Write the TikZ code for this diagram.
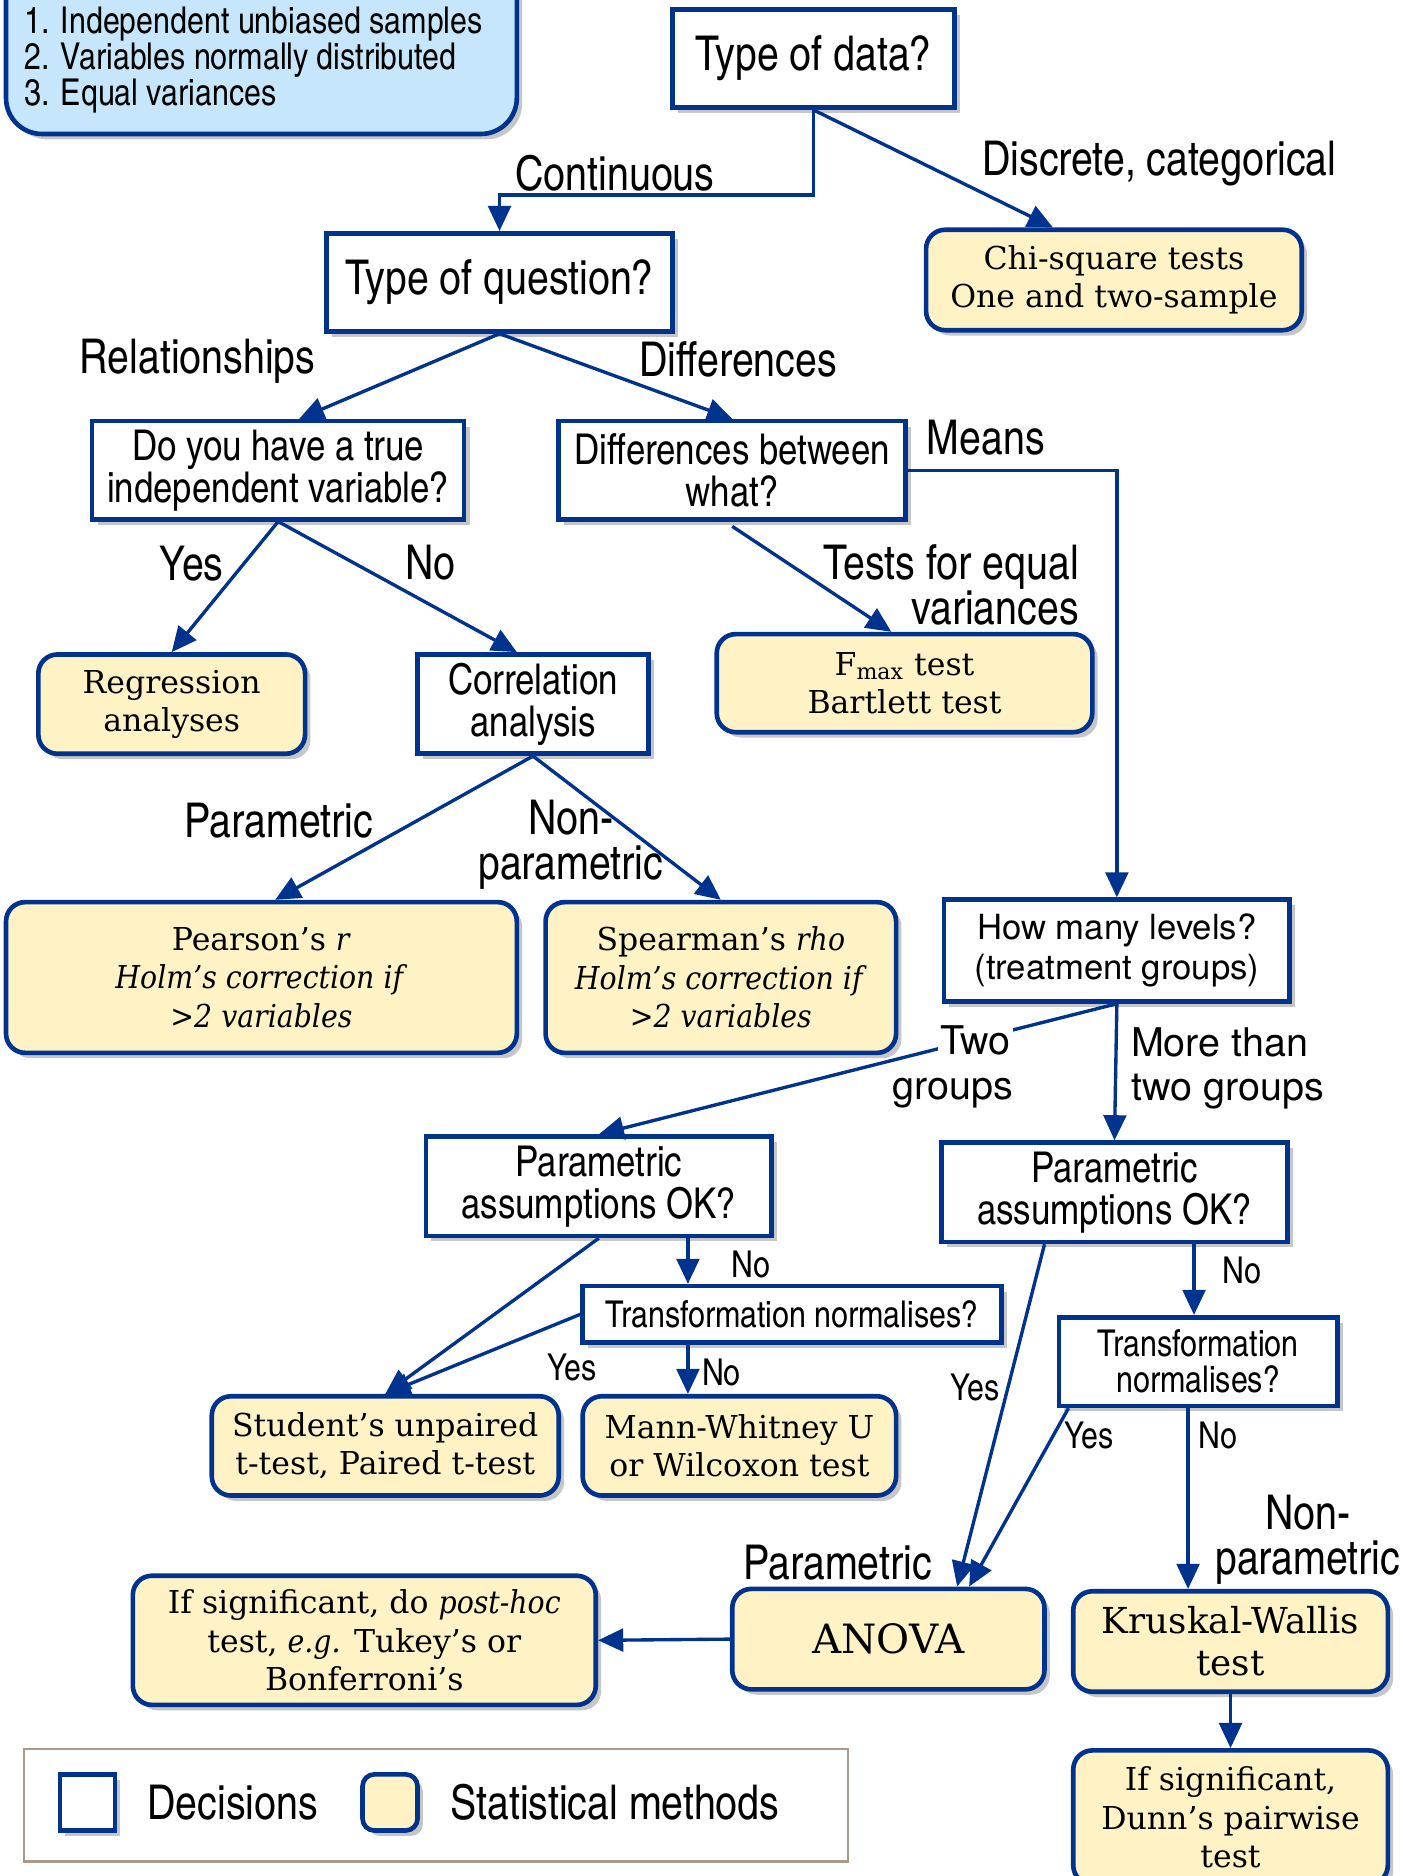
\documentclass[tikz,border=0pt]{standalone}
\usepackage{fontspec}
\setmainfont{DejaVu Serif}[ItalicFeatures={FakeStretch=0.9}]
\newfontfamily\narrowsans{texgyreheroscn-regular.otf}
\newfontfamily\widesans{TeX Gyre Heros}
\usepackage{tikz}
\usetikzlibrary{shapes}
\usetikzlibrary{calc}
\usetikzlibrary{positioning}
\usetikzlibrary{shadows}
\usetikzlibrary{arrows.meta}
\definecolor{boxblue}{RGB}{0,51,141}
\definecolor{methodyellow}{RGB}{255,242,196}
\definecolor{assumptionblue}{RGB}{197,230,251}
\definecolor{legendframe}{RGB}{168,155,140}
\newcommand{\whiteback}[1]{{\setlength{\fboxsep}{1pt}\colorbox{white}{#1}}}

\begin{document}
\begin{tikzpicture}[x=0.02cm, y=-0.02cm]
			\tikzstyle{arrow}=[draw, boxblue, line width=1.6pt, -{Triangle[length=0.42cm, width=0.38cm]}]
			\tikzstyle{boxshadow}=[drop shadow={shadow xshift=0.09cm, shadow yshift=-0.09cm, opacity=0.45}]
			\tikzstyle{decision}=[rectangle, draw=boxblue, fill=white, line width=2.2pt, align=center, inner sep=1pt, boxshadow]
			\tikzstyle{method}=[rectangle, rounded corners=0.32cm, draw=boxblue, fill=methodyellow, line width=2.2pt, align=center, inner sep=1pt, boxshadow]
			\tikzstyle{label}=[inner sep=0pt, align=center]
			\tikzstyle{bigText}=[font=\narrowsans\fontsize{22.8}{21.6}\selectfont]
			\tikzstyle{midText}=[font=\narrowsans\fontsize{20.2}{20}\selectfont]
			\tikzstyle{smallText}=[font=\narrowsans\fontsize{17.6}{17}\selectfont]
			\tikzstyle{wideText}=[font=\widesans\fontsize{16.5}{18.8}\selectfont]
			\tikzstyle{wideLabel}=[font=\widesans\fontsize{18.8}{21.3}\selectfont]
			\tikzstyle{serifText}=[font=\fontsize{15}{18.2}\selectfont]
			\tikzstyle{serifBig}=[font=\fontsize{17}{19.9}\selectfont]
			\tikzstyle{serifHuge}=[font=\fontsize{19.2}{22}\selectfont]

			\useasboundingbox (0, 0) rectangle (1176, 1568);
			\clip (0, 0) rectangle (1176, 1568);

			\node[rectangle, rounded corners=0.6cm, draw=boxblue, fill=assumptionblue, line width=2.2pt, boxshadow, minimum width=8.54cm, minimum height=3.44cm] at (218.5, 26) (assumptions) {};
			\node[anchor=west, align=left, inner sep=0pt, smallText] at (20, 50) (assumptionsList) {1. Independent unbiased samples\\2. Variables normally distributed\\3. Equal variances};

			\node[decision, bigText, minimum width=4.72cm, minimum height=1.64cm] at (680, 49) (typeOfData) {Type of data?};
			\node[method, serifText, minimum width=6.28cm, minimum height=1.68cm] at (931, 234) (chiSquare) {Chi-square tests\\One and two-sample};
			\node[decision, bigText, minimum width=5.78cm, minimum height=1.64cm] at (417.5, 236) (typeOfQuestion) {Type of question?};

			\node[decision, midText, minimum width=6.22cm, minimum height=1.64cm] at (232.5, 393) (trueIndependent) {Do you have a true\\independent variable?};
			\node[decision, midText, minimum width=5.80cm, minimum height=1.64cm] at (612, 393) (diffWhat) {Differences between\\what?};
			\node[method, serifText, minimum width=6.28cm, minimum height=1.64cm] at (756, 571) (fmaxTest) {F\textsubscript{max} test\\Bartlett test};

			\node[method, serifText, minimum width=4.46cm, minimum height=1.66cm] at (143.5, 588.5) (regression) {Regression\\analyses};
			\node[decision, midText, minimum width=3.86cm, minimum height=1.66cm] at (445.5, 588.5) (correlation) {Correlation\\analysis};

			\node[method, serifText, minimum width=8.54cm, minimum height=2.52cm] at (218.5, 817) (pearson) {Pearson’s \textit{r}\\\textit{Holm’s correction if}\\\textit{>2 variables}};
			\node[method, serifText, minimum width=5.86cm, minimum height=2.52cm] at (602.5, 817) (spearman) {Spearman’s \textit{rho}\\\textit{Holm’s correction if}\\\textit{>2 variables}};
			\node[decision, wideText, minimum width=5.78cm, minimum height=1.70cm] at (933.5, 794.5) (howMany) {How many levels?\\(treatment groups)};

			\node[decision, midText, minimum width=5.78cm, minimum height=1.66cm] at (500.5, 991.5) (paramLeft) {Parametric\\assumptions OK?};
			\node[decision, midText, minimum width=5.78cm, minimum height=1.66cm] at (931.5, 996.5) (paramRight) {Parametric\\assumptions OK?};
			\node[decision, smallText, minimum width=7.00cm, minimum height=0.94cm] at (662, 1098.5) (transLeft) {Transformation normalises?};
			\node[decision, smallText, minimum width=4.66cm, minimum height=1.48cm] at (1001.5, 1138) (transRight) {Transformation\\normalises?};

			\node[method, serifText, minimum width=5.80cm, minimum height=1.66cm] at (322, 1208.5) (student) {Student’s unpaired\\t-test, Paired t-test};
			\node[method, serifText, minimum width=5.24cm, minimum height=1.66cm] at (618, 1208.5) (mannWhitney) {Mann-Whitney U\\or Wilcoxon test};

			\node[method, serifHuge, minimum width=5.22cm, minimum height=1.68cm] at (742.5, 1370) (anova) {ANOVA};
			\node[method, serifBig, minimum width=5.26cm, minimum height=1.68cm] at (1028.5, 1372) (kruskal) {Kruskal-Wallis\\test};
			\node[method, serifText, minimum width=7.74cm, minimum height=2.16cm] at (304.5, 1371) (postHoc) {If significant, do \textit{post-hoc}\\test, \textit{e.g.} Tukey’s or\\Bonferroni’s};
			\node[method, serifText, minimum width=5.26cm, minimum height=2.24cm] at (1028.5, 1519) (dunn) {If significant,\\Dunn’s pairwise\\test};

			\node[rectangle, draw=legendframe, line width=1.2pt, fill=white, minimum width=13.78cm, minimum height=1.88cm] at (364.5, 1509) (legend) {};
			\node[decision, minimum width=0.92cm, minimum height=0.94cm] at (73, 1506.5) (legendDecision) {};
			\node[label, bigText, right=0.5cm of legendDecision] (legendDecisionText) {Decisions};
			\node[method, rounded corners=0.2cm, minimum width=0.92cm, minimum height=0.94cm] at (326, 1506.5) (legendMethod) {};
			\node[label, bigText, right=0.5cm of legendMethod] (legendMethodText) {Statistical methods};

			\coordinate (continuousTurn) at (680, 163);
	  		\path[arrow] (typeOfData.south) -- (continuousTurn) -| (typeOfQuestion.north);
			\coordinate[left=1.02cm of chiSquare.north] (chiSquarePointOne);
	  		\path[arrow] (typeOfData.south) -- (chiSquarePointOne);

			\coordinate[right=0.35cm of trueIndependent.north] (trueIndependentPointOne);
	  		\path[arrow] (typeOfQuestion.south) -- (trueIndependentPointOne);
	  		\path[arrow] (typeOfQuestion.south) -- (diffWhat.north);

	  		\path[arrow] (trueIndependent.south) -- (regression.north);
			\coordinate[left=0.27cm of correlation.north] (correlationPointOne);
	  		\path[arrow] (trueIndependent.south) -- (correlationPointOne);

	  		\path[arrow] (diffWhat.east) -| (howMany.north);
			\coordinate[below=0.08cm of diffWhat.south] (diffWhatPointOne);
			\coordinate[left=0.22cm of fmaxTest.north] (fmaxTestPointOne);
	  		\path[arrow] (diffWhatPointOne) -- (fmaxTestPointOne);

			\coordinate[right=0.23cm of pearson.north] (pearsonPointOne);
	  		\path[arrow] (correlation.south) -- (pearsonPointOne);
	  		\path[arrow] (correlation.south) -- (spearman.north);

	  		\path[arrow] (howMany.south) -- (paramLeft.north);
	  		\path[arrow] (howMany.south) -- (paramRight.north);

			\coordinate[right=1.49cm of paramLeft.south] (paramLeftPointOne);
	  		\path[arrow] (paramLeftPointOne) -- (paramLeftPointOne |- transLeft.north);
	  		\path[arrow] (paramLeft.south) -- (student.north);
	  		\path[arrow] (transLeft.west) -- (student.north);
	  		\path[arrow] (paramLeftPointOne |- transLeft.south) -- (paramLeftPointOne |- mannWhitney.north);

			\coordinate[left=1.17cm of paramRight.south] (paramRightPointOne);
			\coordinate[right=1.33cm of paramRight.south] (paramRightPointTwo);
			\coordinate[right=1.15cm of anova.north] (anovaPointOne);
			\coordinate[right=1.35cm of anova.north] (anovaPointTwo);
	  		\path[arrow] (paramRightPointOne) -- (anovaPointOne);
	  		\path[arrow] (paramRightPointTwo) -- (paramRightPointTwo |- transRight.north);
			\coordinate[right=0.2cm of transRight.south west] (transRightPointOne);
	  		\path[arrow] (transRightPointOne) -- (anovaPointTwo);
			\coordinate[left=0.71cm of kruskal.north] (kruskalPointOne);
	  		\path[arrow] (kruskalPointOne |- transRight.south) -- (kruskalPointOne);

	  		\path[arrow] (anova.west) -- (postHoc.east);
	  		\path[arrow] (kruskal.south) -- (dunn.north);

			\node[label, bigText] at (514, 145) (continuousLabel) {Continuous};
			\node[label, bigText] at (969, 137) (discreteLabel) {Discrete, categorical};
			\node[label, bigText] at (165, 302) (relationshipsLabel) {Relationships};
			\node[label, bigText] at (617, 300) (differencesLabel) {Differences};
			\node[label, bigText] at (824, 366) (meansLabel) {Means};
			\node[label, bigText, align=right, anchor=east] at (902, 489) (equalVarLabel) {Tests for equal\\variances};
			\node[label, bigText] at (160, 471) (yesIndependent) {Yes};
			\node[label, bigText] at (360, 470) (noIndependent) {No};
			\node[label, bigText] at (233, 686) (parametricCorr) {Parametric};
			\node[label, bigText] at (477, 706) (nonParametricCorr) {Non-\\parametric};
			\node[label, wideLabel, align=right, anchor=east] at (847, 891) (twoGroups) {\whiteback{Two}\\groups};
			\node[label, wideLabel, align=left, anchor=west] at (945, 893) (moreGroups) {More than\\two groups};
			\node[label, smallText] at (628, 1057) (noParamLeft) {No};
			\node[label, smallText] at (478, 1143) (yesTransLeft) {Yes};
			\node[label, smallText] at (603, 1147) (noTransLeft) {No};
			\node[label, smallText] at (815, 1160) (yesParamRight) {Yes};
			\node[label, smallText] at (1038, 1062) (noParamRight) {No};
			\node[label, smallText] at (910, 1200) (yesTransRight) {Yes};
			\node[label, smallText] at (1018, 1200) (noTransRight) {No};
			\node[label, bigText] at (1093, 1287) (nonParametricKw) {Non-\\parametric};
			\node[label, bigText] at (700, 1306) (parametricAnova) {Parametric};
		\end{tikzpicture}
\end{document}
